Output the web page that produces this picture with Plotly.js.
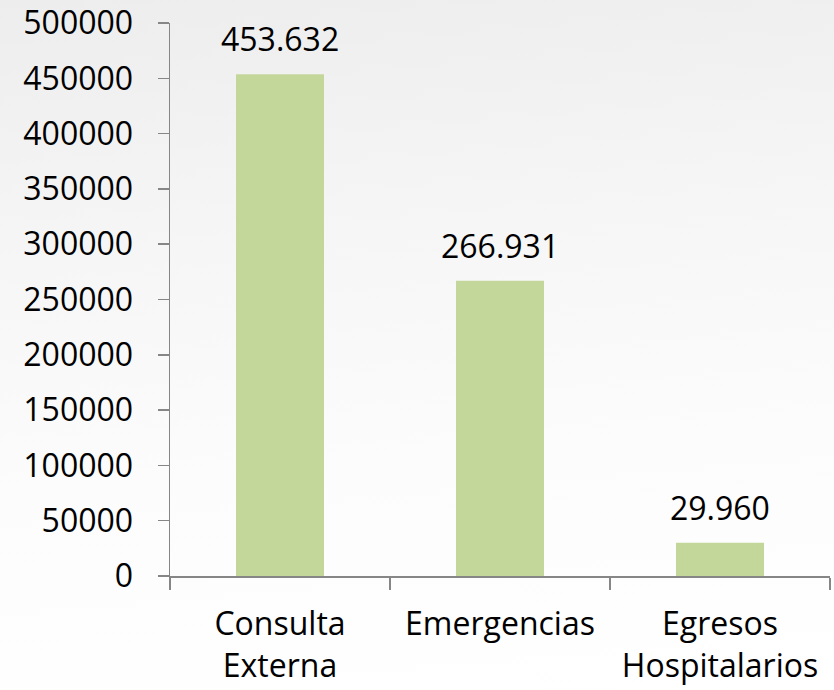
<!DOCTYPE html>
<html>
<head>
<meta charset="utf-8">
<script src="https://cdn.plot.ly/plotly-3.0.1.min.js"></script>
<style>
  html, body { margin: 0; padding: 0; width: 834px; height: 690px; overflow: hidden;
    background: linear-gradient(175deg, #ededed 0%, #f6f6f6 35%, #fcfcfc 65%, #ffffff 100%); }
  #chart { width: 834px; height: 690px; }
</style>
</head>
<body>
<div id="chart"></div>
<script>
const categories = ["Consulta<br>Externa", "Emergencias", "Egresos<br>Hospitalarios"];
const values = [453632, 266931, 29960];
const valueLabels = ["453.632", "266.931", "29.960"];
const yTickValues = [0, 50000, 100000, 150000, 200000, 250000, 300000, 350000, 400000, 450000, 500000];

const font = "Open Sans, Lato, sans-serif";
const axisColor = "#868686";

const trace = {
  type: "bar",
  x: categories,
  y: values,
  marker: { color: "#c4d79b" },
  width: 0.4,
  hoverinfo: "none"
};

const annotations = categories.map((c, i) => ({
  x: c, y: values[i], xref: "x", yref: "y",
  text: valueLabels[i], showarrow: false,
  yanchor: "bottom", yshift: 12,
  font: { family: font, size: 32, color: "#000" }
}));

const layout = {
  width: 834, height: 690,
  margin: { l: 170, r: 4, t: 23, b: 114 },
  paper_bgcolor: "rgba(0,0,0,0)",
  plot_bgcolor: "rgba(0,0,0,0)",
  showlegend: false,
  bargap: 0.6,
  xaxis: {
    type: "category",
    range: [-0.5, 2.5],
    tickson: "boundaries",
    ticks: "outside", ticklen: 12, tickcolor: axisColor, tickwidth: 1.5,
    showline: true, linecolor: axisColor, linewidth: 1.5,
    showgrid: false, zeroline: false,
    tickfont: { family: font, size: 32, color: "#000" },
    ticklabelstandoff: 19,
    fixedrange: true
  },
  yaxis: {
    range: [0, 500000],
    tickvals: yTickValues,
    tickformat: "d",
    ticks: "outside", ticklen: 11, tickcolor: axisColor, tickwidth: 1.5,
    showline: true, linecolor: axisColor, linewidth: 1.5,
    showgrid: false, zeroline: false,
    tickfont: { family: font, size: 32, color: "#000" },
    ticklabelstandoff: 18,
    fixedrange: true
  },
  annotations: annotations
};

Plotly.newPlot("chart", [trace], layout, { displayModeBar: false, staticPlot: true });
</script>
</body>
</html>
